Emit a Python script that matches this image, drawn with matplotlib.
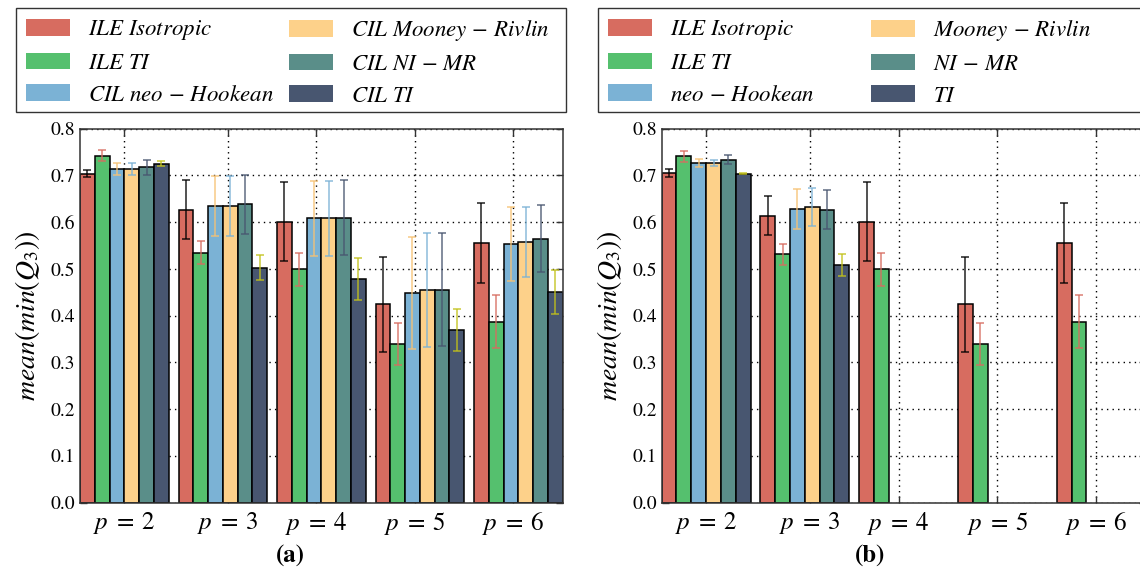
# region 1. 基础库导入 --------------------------------------
import matplotlib
matplotlib.use("Agg")
import matplotlib.pyplot as plt
import numpy as np
from matplotlib.patches import Rectangle
# endregion

# region 2. 数据 --------------------------------------------
groups = [r"$p\;=\;2$", r"$p\;=\;3$", r"$p\;=\;4$", r"$p\;=\;5$", r"$p\;=\;6$"]

labels_a = [r"$ILE\ Isotropic$", r"$ILE\ TI$", r"$CIL\ neo\,-\,Hookean$",
            r"$CIL\ Mooney\,-\,Rivlin$", r"$CIL\ NI\,-\,MR$", r"$CIL\ TI$"]
labels_b = [r"$ILE\ Isotropic$", r"$ILE\ TI$", r"$neo\,-\,Hookean$",
            r"$Mooney\,-\,Rivlin$", r"$NI\,-\,MR$", r"$TI$"]

# (a) 均值
a_ile_iso = [0.704, 0.627, 0.601, 0.424, 0.556]
a_ile_ti  = [0.742, 0.535, 0.499, 0.340, 0.387]
a_neo     = [0.713, 0.635, 0.608, 0.449, 0.554]
a_mooney  = [0.713, 0.635, 0.608, 0.454, 0.558]
a_nimr    = [0.717, 0.638, 0.610, 0.456, 0.565]
a_ti      = [0.725, 0.503, 0.479, 0.370, 0.450]
# (a) 误差
a_ile_iso_err = [0.008, 0.063, 0.084, 0.102, 0.086]
a_ile_ti_err  = [0.012, 0.025, 0.036, 0.045, 0.057]
a_neo_err     = [0.013, 0.064, 0.081, 0.120, 0.079]
a_mooney_err  = [0.013, 0.064, 0.081, 0.122, 0.075]
a_nimr_err    = [0.015, 0.063, 0.080, 0.120, 0.072]
a_ti_err      = [0.005, 0.026, 0.045, 0.045, 0.047]

# (b) 均值（缺失 = nan）
nan = np.nan
b_ile_iso = [0.705, 0.614, 0.601, 0.424, 0.556]
b_ile_ti  = [0.741, 0.531, 0.499, 0.340, 0.387]
b_neo     = [0.727, 0.628, nan, nan, nan]
b_mooney  = [0.727, 0.632, nan, nan, nan]
b_nimr    = [0.734, 0.627, nan, nan, nan]
b_ti      = [0.704, 0.509, nan, nan, nan]
# (b) 误差
b_ile_iso_err = [0.008, 0.041, 0.084, 0.102, 0.086]
b_ile_ti_err  = [0.012, 0.022, 0.036, 0.045, 0.057]
b_neo_err     = [0.008, 0.042, nan, nan, nan]
b_mooney_err  = [0.007, 0.041, nan, nan, nan]
b_nimr_err    = [0.009, 0.042, nan, nan, nan]
b_ti_err      = [0.001, 0.024, nan, nan, nan]
# endregion

# region 3. 样式 --------------------------------------------
plt.rcParams["font.family"] = "STIXGeneral"
plt.rcParams["mathtext.fontset"] = "stix"

bar_colors = ["#d76c60", "#55c06e", "#7bb2d5", "#fdd18a", "#5a8e89", "#485670"]
err_colors = ["#000000", "#d76c60", "#f7c274", "#7bb2d5", "#485670", "#c2c21a"]
width = 0.15
tick_pos = [0.45, 1.5, 2.4, 3.4, 4.4]
W, H = 1140, 572
# endregion

# region 4. 画布 --------------------------------------------
fig = plt.figure(figsize=(W / 100, H / 100), dpi=100)
ax_a = fig.add_axes([0.0702, 0.1212, 0.4234, 0.6538])
ax_b = fig.add_axes([0.5804, 0.1212, 0.4245, 0.6538])
# endregion


def draw(ax, series, errors, labels):
    x = np.arange(len(groups))
    handles = []
    for j, (vals, errs) in enumerate(zip(series, errors)):
        b = ax.bar(x + j * width, vals, width, align="edge",
                   color=bar_colors[j], edgecolor="black", linewidth=1.1,
                   label=labels[j], zorder=2)
        handles.append(b)
        ax.errorbar(x + j * width + width / 2, vals, yerr=errs, fmt="none",
                    ecolor=err_colors[j], elinewidth=1.2, capsize=3,
                    capthick=1.2, alpha=0.8, zorder=3)
    ax.set_xlim(0, 4.9)
    ax.set_ylim(0, 0.8)
    ax.set_yticks(np.arange(0, 0.81, 0.1))
    ax.set_yticklabels([f"{v:.1f}" for v in np.arange(0, 0.81, 0.1)],
                       fontsize=14)
    ax.set_xticks(tick_pos)
    ax.set_xticklabels(groups, fontsize=18)
    ax.tick_params(direction="in", top=True, right=True, length=5,
                   width=1, color="#333333")
    ax.tick_params(axis="x", pad=5)
    ax.set_axisbelow(True)
    ax.grid(True, linestyle=(0, (1, 3)), color="black", linewidth=1)
    for s in ax.spines.values():
        s.set_color("#333333")
        s.set_linewidth(1.1)
    ax.set_ylabel(r"$mean(min(Q_3))$", fontsize=20, labelpad=6)

    # 图例：外框单独画，两列各用一个图例，位置按像素换算
    pos = ax.get_position()
    wpx, hpx = pos.width * W, pos.height * H
    bx0 = -64 / wpx
    bw = 550 / wpx
    top = 1 + ((H - 8) - pos.y1 * H) / hpx
    bot = 1 + ((H - 112) - pos.y1 * H) / hpx
    ax.add_patch(Rectangle((bx0, bot), bw, top - bot, transform=ax.transAxes,
                           facecolor="white", edgecolor="#333333",
                           linewidth=1.0, clip_on=False, zorder=5))
    kw = dict(loc="upper left", fontsize=16.5, borderaxespad=0, frameon=False,
              handlelength=1.9, handleheight=0.75, handletextpad=0.8,
              labelspacing=0.45, borderpad=0.45)
    col1 = ax.legend(handles[:3], labels[:3], bbox_to_anchor=(bx0, top), **kw)
    ax.add_artist(col1)
    col2 = ax.legend(handles[3:], labels[3:],
                     bbox_to_anchor=(bx0 + 263 / wpx, top), **kw)
    for leg in (col1, col2):
        leg.set_zorder(6)
        for h in leg.legend_handles:
            h.set_edgecolor("none")


draw(ax_a,
     [a_ile_iso, a_ile_ti, a_neo, a_mooney, a_nimr, a_ti],
     [a_ile_iso_err, a_ile_ti_err, a_neo_err, a_mooney_err, a_nimr_err, a_ti_err],
     labels_a)
draw(ax_b,
     [b_ile_iso, b_ile_ti, b_neo, b_mooney, b_nimr, b_ti],
     [b_ile_iso_err, b_ile_ti_err, b_neo_err, b_mooney_err, b_nimr_err, b_ti_err],
     labels_b)

fig.text(290 / W, 16 / H, "(a)", ha="center", va="center",
         fontsize=18, fontweight="bold")
fig.text(870 / W, 16 / H, "(b)", ha="center", va="center",
         fontsize=18, fontweight="bold")

fig.savefig("out.png", dpi=100)
